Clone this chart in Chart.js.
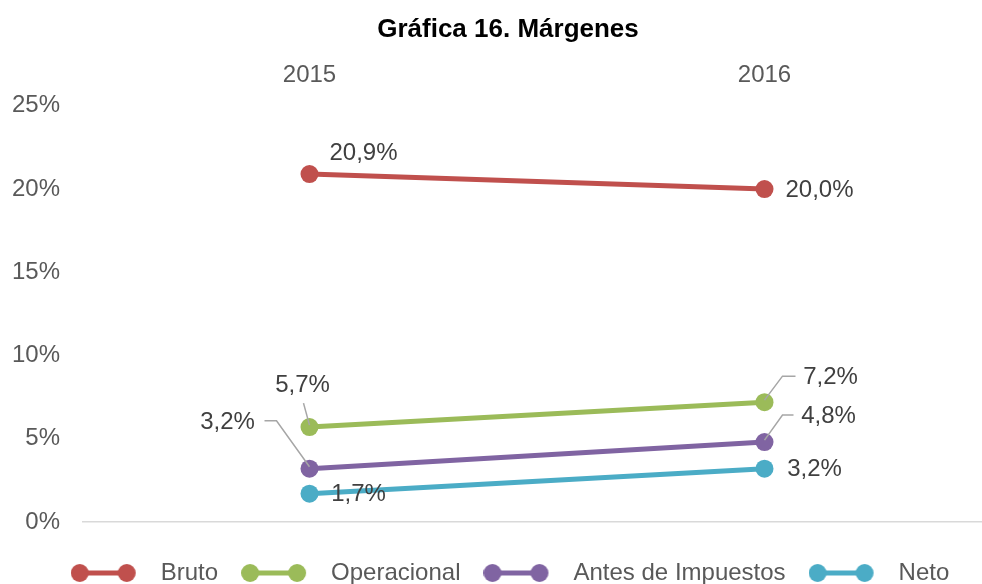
<!DOCTYPE html>
<html>
<head>
<meta charset="utf-8">
<script src="https://cdn.jsdelivr.net/npm/chart.js@4/dist/chart.umd.min.js"></script>
<style>
  html, body { margin: 0; padding: 0; background: #fff; overflow: hidden; }
  /* plot runs slightly past the right edge of the picture, as in the reference */
  #wrap { position: relative; width: 992px; height: 584px; }
</style>
</head>
<body>
<div id="wrap"><canvas id="chart"></canvas></div>
<script>
// values (percent)
var years = ["2015", "2016"];
var seriesNames = ["Bruto", "Operacional", "Antes de Impuestos", "Neto"];
var bruto = [20.9, 20.0];
var operacional = [5.7, 7.2];
var antesImpuestos = [3.2, 4.8];
var neto = [1.7, 3.2];
var yTicks = [0, 5, 10, 15, 20, 25];

var colors = ["#C0504D", "#9BBB59", "#8064A2", "#4BACC6"];
var FONT = "'Liberation Sans', Arial, sans-serif";

// label placement per series / point: dx, dy from the point, optional leader elbow
var labelPos = [
  [{ dx: 54, dy: -21 }, { dx: 55, dy: 1 }],
  [{ dx: -7, dy: -42, lead: [[-6, -24]] }, { dx: 66, dy: -25, lead: [[31, -26], [18, -26]] }],
  [{ dx: -82, dy: -46, lead: [[-45, -48], [-33, -48]] }, { dx: 64, dy: -26, lead: [[29, -27], [18, -27]] }],
  [{ dx: 49, dy: 1 }, { dx: 50, dy: 1 }]
];

function fmt(v) { return v.toFixed(1).replace(".", ",") + "%"; }

function legendIcon(color) {
  var c = document.createElement("canvas");
  c.width = 78; c.height = 20;
  var g = c.getContext("2d");
  g.strokeStyle = color; g.lineWidth = 5;
  g.beginPath(); g.moveTo(9, 10); g.lineTo(56, 10); g.stroke();
  g.fillStyle = color;
  g.beginPath(); g.arc(9, 10, 9, 0, Math.PI * 2); g.fill();
  g.beginPath(); g.arc(56, 10, 9, 0, Math.PI * 2); g.fill();
  return c;
}

var allData = [bruto, operacional, antesImpuestos, neto];
var datasets = [];
for (var i = 0; i < seriesNames.length; i++) {
  datasets.push({
    label: seriesNames[i],
    data: allData[i],
    borderColor: colors[i],
    backgroundColor: colors[i],
    borderWidth: 5,
    pointRadius: 9,
    pointHoverRadius: 9,
    pointBackgroundColor: colors[i],
    pointBorderWidth: 0,
    tension: 0,
    clip: false,
    icon: legendIcon(colors[i])
  });
}

var titlePlugin = {
  id: "titleText",
  afterDraw: function (chart) {
    var ctx = chart.ctx;
    ctx.save();
    ctx.font = "bold 26px " + FONT;
    ctx.fillStyle = "#000";
    ctx.textAlign = "center";
    ctx.textBaseline = "middle";
    ctx.fillText("Gráfica 16. Márgenes", 508, 30);
    ctx.restore();
  }
};

// the reference legend sits a little right of centre
var legendNudge = {
  id: "legendNudge",
  afterLayout: function (chart) {
    if (!chart.legend) return;
    chart.legend.left += 8;
    chart.legend.right += 8;
  }
};

var valueLabels = {
  id: "valueLabels",
  afterDatasetsDraw: function (chart) {
    var ctx = chart.ctx;
    ctx.save();
    ctx.font = "24px " + FONT;
    ctx.fillStyle = "#404040";
    ctx.textAlign = "center";
    ctx.textBaseline = "middle";
    chart.data.datasets.forEach(function (ds, di) {
      var meta = chart.getDatasetMeta(di);
      meta.data.forEach(function (pt, j) {
        var p = labelPos[di][j];
        if (p.lead) {
          ctx.strokeStyle = "#a6a6a6";
          ctx.lineWidth = 1.5;
          ctx.beginPath();
          ctx.moveTo(pt.x + p.lead[0][0], pt.y + p.lead[0][1]);
          for (var k = 1; k < p.lead.length; k++) ctx.lineTo(pt.x + p.lead[k][0], pt.y + p.lead[k][1]);
          ctx.lineTo(pt.x, pt.y - 2);
          ctx.stroke();
        }
        ctx.fillText(fmt(ds.data[j]), pt.x + p.dx, pt.y + p.dy);
      });
    });
    ctx.restore();
  }
};

new Chart(document.getElementById("chart"), {
  type: "line",
  data: { labels: years, datasets: datasets },
  options: {
    responsive: true,
    maintainAspectRatio: false,
    animation: false,
    layout: { autoPadding: false, padding: { left: 12, right: 0, top: 45, bottom: -11 } },
    scales: {
      x: {
        position: "top",
        offset: true,
        grid: { display: false, drawTicks: false },
        border: { display: false },
        ticks: { color: "#595959", font: { family: FONT, size: 24 }, padding: 16 }
      },
      y: {
        min: 0,
        max: 25,
        afterBuildTicks: function (s) { s.ticks = yTicks.map(function (v) { return { value: v }; }); },
        afterFit: function (s) { s.width = 70; },
        grid: {
          drawTicks: false,
          lineWidth: 1.5,
          color: function (c) { return c.tick && c.tick.value === 0 ? "#d9d9d9" : "rgba(0,0,0,0)"; }
        },
        border: { display: false },
        ticks: {
          color: "#595959",
          font: { family: FONT, size: 24 },
          padding: 22,
          callback: function (v) { return v + "%"; }
        }
      }
    },
    plugins: {
      tooltip: { enabled: false },
      title: { display: false },
      legend: {
        position: "bottom",
        title: { display: true, text: "", font: { size: 10, lineHeight: 1 }, padding: { top: 6, bottom: 0 } },
        labels: {
          usePointStyle: true,
          pointStyleWidth: 78,
          boxHeight: 20,
          padding: 23,
          color: "#595959",
          font: { family: FONT, size: 24 },
          generateLabels: function (chart) {
            return chart.data.datasets.map(function (ds, i) {
              return {
                text: ds.label,
                pointStyle: ds.icon,
                fillStyle: ds.borderColor,
                strokeStyle: ds.borderColor,
                lineWidth: 0,
                fontColor: "#595959",
                hidden: false,
                datasetIndex: i
              };
            });
          }
        }
      }
    }
  },
  plugins: [titlePlugin, legendNudge, valueLabels]
});
</script>
</body>
</html>
